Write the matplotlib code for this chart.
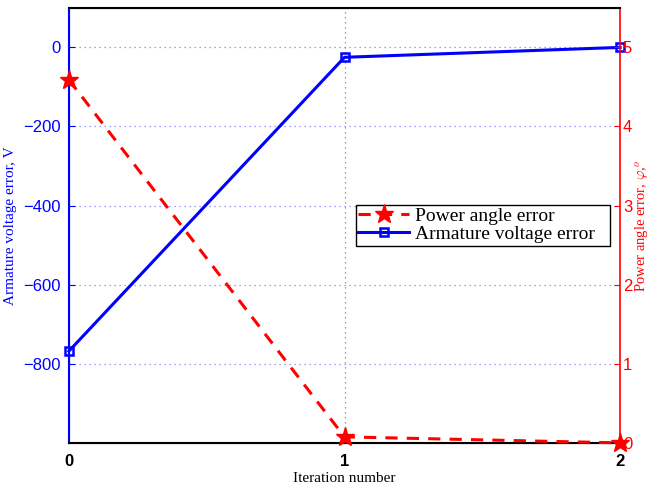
import numpy as np
import matplotlib.pyplot as plt

# iteration results
iterations = [0, 1, 2]
voltage_err = [-768, -25, 0]        # V
angle_err = [4.59, 0.076, 0.0]      # degrees

left_ticks = [0, -200, -400, -600, -800]
right_ticks = [0, 1, 2, 3, 4, 5]

plt.rcParams['mathtext.fontset'] = 'cm'
plt.rcParams['font.family'] = 'Liberation Sans'
serif = 'Liberation Serif'

fig = plt.figure(figsize=(6.5, 4.91), dpi=100)
ax1 = fig.add_axes([0.106, 0.098, 0.848, 0.886])
ax2 = ax1.twinx()

l1, = ax1.plot(iterations, voltage_err, '-s', color='blue', lw=2.2,
               markersize=6, markerfacecolor='none', markeredgewidth=1.8,
               label='Armature voltage error', clip_on=False, zorder=3)
l2, = ax2.plot(iterations, angle_err, '--*', color='red', lw=2.2,
               markersize=14, dashes=(4, 3),
               label='Power angle error', clip_on=False, zorder=3)

ax1.set_xlim(0, 2)
ax1.set_ylim(-1000, 100)
ax2.set_ylim(0, 5.5)
ax1.set_xticks(iterations)
ax1.set_yticks(left_ticks)
ax2.set_yticks(right_ticks)
ax1.set_yticklabels(['0', '\u2212200', '\u2212400', '\u2212600', '\u2212800'])

# dotted grid, blue on y, gray at x ticks
for v in left_ticks:
    ax1.axhline(v, color='#8080ff', ls=(0, (1, 3)), lw=0.9, zorder=1)
ax1.axvline(1, color='#808080', ls=(0, (1, 3)), lw=0.9, zorder=1)

ax1.tick_params(axis='y', colors='blue', direction='in', labelsize=12, length=4, pad=6)
ax2.tick_params(axis='y', colors='red', direction='in', labelsize=12, length=4, pad=2)
ax1.tick_params(axis='x', colors='black', direction='in', labelsize=12, length=0, pad=8)
for t in ax1.get_xticklabels():
    t.set_fontweight('bold')

ax1.spines['left'].set_color('blue')
ax2.spines['left'].set_color('blue')
ax2.spines['right'].set_color('red')
ax1.spines['right'].set_visible(False)
for s in ['left', 'bottom', 'top']:
    ax2.spines[s].set_linewidth(1.5)
ax2.spines['right'].set_linewidth(1.2)

ax1.set_xlabel('Iteration number', family=serif, fontsize=11, labelpad=2)
ax1.set_ylabel('Armature voltage error, V', family=serif, fontsize=11,
               color='blue', labelpad=4)
ax2.set_ylabel(r'Power angle error, $\varphi$,$^o$', family=serif,
               fontsize=10.5, color='red', labelpad=1)

leg = ax2.legend([l2, l1], ['Power angle error', 'Armature voltage error'],
                 loc='lower left', bbox_to_anchor=(0.52, 0.453, 0.462, 0.1),
                 mode='expand', borderaxespad=0,
                 prop={'family': serif, 'size': 14},
                 fancybox=False, framealpha=1, edgecolor='black',
                 borderpad=0.15, labelspacing=0.0, handlelength=2.6,
                 handletextpad=0.3)
leg.get_frame().set_linewidth(1.0)

fig.savefig('out.png', dpi=100)
